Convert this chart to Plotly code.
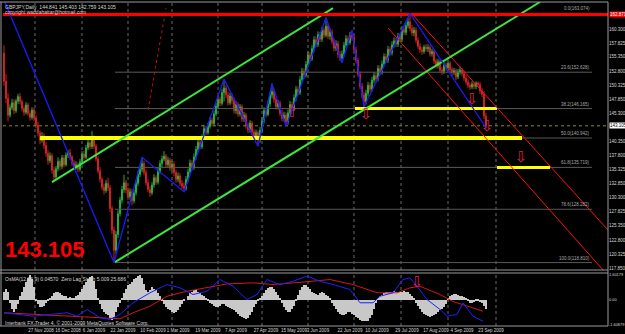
import plotly.graph_objects as go

W, H = 625, 334

# ---------------- price data (daily bars, bar index = position) ----------------
first_open = 156.0
closes = [
    151.0, 148.0, 145.0, 146.3, 147.2, 145.8, 147.5, 148.3, 147.4, 146.2,
    145.5, 146.8, 145.3, 144.6, 145.9, 144.5, 143.2, 141.8, 140.5, 141.3,
    139.6, 138.2, 136.9, 137.8, 135.2, 134.0, 135.5, 136.8, 135.9, 137.4,
    136.2, 137.9, 138.3, 137.6, 136.5, 135.8, 136.2, 135.4, 136.7, 138.1,
    137.5, 139.2, 140.1, 139.4, 141.0, 139.5, 137.2, 135.1, 133.6, 132.2,
    131.6, 132.9, 132.1, 128.4, 124.6, 121.0, 123.8, 127.5, 129.9, 131.8,
    133.0, 131.7, 130.5, 131.4, 129.8, 131.2, 132.9, 134.5, 135.4, 136.4,
    134.8, 133.0, 131.8, 131.2, 132.6, 133.9, 133.1, 135.0, 136.4, 137.2,
    137.7, 136.2, 137.0, 135.6, 136.3, 134.8, 133.6, 134.2, 132.9, 132.4,
    132.0, 133.6, 134.9, 136.5, 135.7, 137.6, 138.9, 140.2, 139.4, 141.0,
    142.6, 141.9, 143.0, 144.1, 143.5, 145.2, 146.6, 147.8, 147.1, 149.0,
    149.8, 148.6, 147.2, 148.4, 147.6, 145.8, 146.9, 145.2, 146.5, 144.3,
    145.0, 143.1, 142.4, 143.6, 142.0, 141.2, 141.9, 140.6, 142.3, 144.0,
    145.8, 145.1, 147.0, 148.6, 149.2, 147.8, 146.5, 147.1, 145.3, 144.4,
    145.0, 143.8, 145.4, 146.9, 146.2, 148.1, 149.6, 149.0, 151.3, 152.8,
    152.1, 154.0, 155.7, 155.0, 156.8, 158.4, 157.6, 159.3, 158.5, 160.1,
    159.2, 160.8, 159.0, 159.8, 158.1, 156.9, 157.7, 155.8, 155.1, 155.9,
    157.4, 158.6, 157.9, 159.2, 158.8, 156.6, 154.7, 152.3, 150.1, 148.6,
    147.4, 148.9, 150.3, 149.6, 151.2, 152.0, 151.4, 153.3, 152.6, 154.1,
    155.4, 154.8, 156.7, 156.1, 157.5, 158.2, 157.6, 159.0, 158.5, 160.2,
    159.7, 160.9, 161.6, 160.4, 159.6, 160.1, 158.3, 157.2, 156.6, 156.3,
    157.1, 156.8, 157.0, 155.9, 156.3, 154.6, 153.8, 154.5, 153.0, 152.8,
    153.9, 153.4, 154.2, 153.1, 152.6, 152.9, 151.8, 152.7, 153.0, 152.4,
    151.6, 150.9, 150.3, 150.0, 150.5, 150.1, 150.7, 150.4, 149.3, 148.7, 144.841, 143.105,
]
highs = [
    157.4, 152.3, 148.9, 146.9, 147.9, 147.8, 147.9, 148.8, 148.9, 147.8,
    146.7, 147.3, 147.2, 145.8, 146.4, 146.3, 145.0, 143.8, 142.3, 142.0,
    141.8, 140.2, 138.8, 138.4, 138.2, 135.8, 136.0, 137.5, 137.2, 137.9,
    137.9, 138.4, 138.8, 139.0, 137.9, 137.0, 136.8, 136.6, 137.2, 138.6,
    138.7, 139.7, 140.8, 140.5, 142.2, 141.4, 139.9, 137.7, 135.8, 134.1,
    132.8, 133.5, 133.9, 132.6, 128.9, 125.2, 124.4, 128.1, 130.5, 132.4,
    134.4, 133.5, 132.2, 132.0, 131.9, 131.8, 133.4, 135.0, 136.1, 137.5,
    136.9, 135.3, 133.6, 132.4, 133.1, 134.5, 134.3, 135.6, 137.0, 137.8,
    138.6, 138.1, 137.6, 137.4, 136.9, 136.8, 135.3, 134.8, 134.7, 133.5,
    133.0, 134.2, 135.5, 137.1, 137.0, 138.2, 139.5, 140.9, 140.8, 141.6,
    143.3, 143.1, 143.6, 144.7, 144.6, 145.8, 147.2, 148.4, 148.3, 149.6,
    151.4, 150.3, 149.1, 149.0, 148.9, 148.1, 147.5, 147.3, 147.0, 146.9,
    145.6, 145.4, 143.7, 144.1, 144.0, 142.5, 142.4, 142.3, 142.9, 144.6,
    146.4, 146.3, 147.6, 149.1, 150.6, 149.7, 148.3, 147.7, 147.6, 145.9,
    145.6, 145.5, 146.0, 147.5, 147.4, 148.7, 150.2, 150.1, 151.9, 153.4,
    153.3, 154.6, 156.3, 156.2, 157.4, 159.0, 159.0, 159.9, 159.8, 160.7,
    160.6, 162.3, 161.3, 160.4, 160.2, 158.6, 158.3, 158.2, 156.4, 156.5,
    158.0, 159.2, 159.1, 159.8, 160.1, 159.3, 157.1, 155.2, 152.8, 150.7,
    149.1, 149.5, 150.9, 150.8, 151.8, 152.6, 152.5, 153.9, 153.8, 154.7,
    156.0, 155.9, 157.3, 157.2, 158.1, 158.8, 158.7, 159.6, 159.5, 160.8,
    160.9, 161.5, 162.3, 163.07, 161.0, 160.7, 160.6, 158.8, 157.8, 157.1,
    157.5, 157.6, 157.6, 157.4, 156.8, 156.7, 155.0, 155.0, 154.9, 153.5,
    154.4, 154.3, 154.8, 154.6, 153.6, 153.4, 153.3, 153.2, 153.6, 153.4,
    152.9, 152.1, 151.4, 150.8, 151.0, 150.9, 151.0, 151.0, 150.9, 149.8, 149.2, 145.403,
]
lows = [
    150.2, 147.1, 143.9, 144.6, 145.9, 145.2, 145.4, 147.0, 146.9, 145.7,
    144.9, 145.1, 144.9, 144.0, 144.2, 143.9, 142.7, 141.2, 139.8, 140.1,
    139.0, 137.6, 136.2, 136.5, 134.6, 133.1, 133.6, 135.0, 135.2, 135.4,
    135.7, 135.9, 137.4, 137.1, 136.0, 135.2, 135.3, 134.9, 135.0, 136.4,
    137.0, 137.2, 138.8, 138.9, 139.0, 139.0, 136.8, 134.6, 133.0, 131.7,
    130.9, 131.2, 131.5, 127.8, 123.9, 118.81, 120.4, 123.2, 127.0, 129.3,
    131.2, 131.1, 129.9, 130.0, 129.0, 129.3, 130.7, 132.4, 134.0, 134.9,
    134.3, 132.5, 131.3, 130.5, 130.8, 132.1, 132.6, 132.7, 134.6, 135.8,
    136.8, 135.7, 135.8, 135.1, 135.0, 134.2, 133.0, 133.1, 132.4, 131.9,
    131.4, 131.6, 133.1, 134.5, 135.2, 135.3, 137.1, 138.4, 138.9, 139.0,
    140.6, 141.4, 141.5, 142.6, 143.0, 143.1, 144.8, 146.1, 146.6, 146.7,
    147.4, 148.0, 146.7, 146.8, 147.0, 145.3, 145.2, 144.7, 144.8, 143.8,
    143.8, 142.6, 141.8, 141.9, 141.5, 140.7, 140.6, 139.5, 140.1, 141.8,
    143.5, 144.6, 144.8, 146.5, 148.0, 147.2, 146.0, 146.0, 144.8, 143.9,
    143.9, 143.0, 143.3, 144.9, 145.7, 145.7, 147.6, 148.5, 148.6, 150.8,
    151.5, 151.7, 153.5, 154.4, 154.6, 156.3, 157.0, 157.1, 158.0, 158.0,
    158.7, 158.8, 158.5, 158.4, 157.6, 156.3, 156.4, 155.2, 154.6, 154.3,
    155.4, 156.9, 157.4, 157.5, 158.2, 156.1, 154.2, 151.8, 149.6, 148.0,
    146.5, 146.9, 148.4, 149.1, 149.2, 150.7, 150.9, 151.0, 152.1, 152.2,
    153.6, 154.3, 154.3, 155.6, 155.6, 157.0, 157.1, 157.1, 158.0, 158.0,
    159.2, 159.2, 160.4, 159.9, 159.1, 159.0, 157.8, 156.7, 156.1, 155.7,
    155.9, 156.3, 156.2, 155.4, 155.4, 154.1, 153.3, 153.3, 152.5, 152.1,
    152.3, 152.9, 152.9, 152.6, 152.0, 152.1, 151.2, 151.4, 152.2, 151.9,
    151.1, 150.4, 149.8, 149.5, 149.6, 149.6, 149.6, 150.0, 148.8, 148.2, 144.3, 142.759,
]

# ZigZag swing points (bar index, price)
zz_i = [-3, 55, 69, 90, 110, 127, 134, 141, 161, 169, 174, 180, 203, 241]
zz_p = [168.0, 118.81, 137.5, 131.4, 151.4, 139.5, 150.6, 143.0, 162.3, 154.3, 160.1, 146.5, 163.07, 142.759]

# OsMA histogram, one value per bar
osma = [
    0.5, 0.7, 0.5,
    -0.2, -0.6, -0.8, -0.6, -0.3,
    0.2, 0.5, 0.8, 1.1, 1.4, 1.6, 1.3, 0.8,
    -0.1, -0.3, -0.5, -0.5, -0.4, -0.2, -0.1, 0.1,
    0.2, 0.4, 0.5, 0.5, 0.4, 0.3, 0.2, 0.2,
    0.1, 0.15, 0.1, 0.1, 0.2,
    0.3, 0.5, 0.7, 0.9, 1.1, 1.3, 1.45, 1.5, 1.2, 0.7,
    0.1, -0.3, -0.6, -0.8, -0.9, -1.0, -1.2, -1.3, -1.1, -0.8, -0.5, -0.2,
    0.1, 0.4, 0.7, 0.9, 1.0, 1.1, 1.3, 1.4, 1.5, 1.6, 1.4, 1.0, 0.6,
    0.5, 0.6, 0.8, 0.7, 0.6, 0.4, 0.2,
    -0.1, -0.3, -0.5, -0.6, -0.7, -0.8, -0.85, -0.8, -0.7, -0.5, -0.3, -0.1,
    0.0, 0.2, 0.4, 0.5, 0.6, 0.6, 0.5, 0.4, 0.3, 0.2,
    0.1, -0.1, -0.2, -0.3, -0.4, -0.5, -0.5, -0.4, -0.3, -0.3, -0.4, -0.5, -0.55, -0.6,
    -0.7, -0.8, -0.95, -1.05, -1.15, -1.2, -1.25, -1.2, -1.0, -0.8, -0.5, -0.3, -0.1, 0.05,
    0.2, 0.4, 0.6, 0.75, 0.8, 0.8, 0.7, 0.5, 0.3, 0.1,
    -0.2, -0.5, -0.7, -0.8, -0.8, -0.6, -0.4, -0.1,
    0.3, 0.6, 0.8, 0.9, 0.9, 0.8, 0.7, 0.5,
    0.4, 0.35, 0.3, 0.4, 0.45, 0.4, 0.3, 0.2, 0.1,
    -0.2, -0.4, -0.6, -0.8, -0.9, -1.0, -1.0, -0.9, -0.8, -0.8, -0.9,
    -1.0, -1.1, -1.2, -1.3, -1.35, -1.4, -1.4, -1.35, -1.2, -1.0, -0.6, -0.2,
    0.1, 0.2, 0.3, 0.4, 0.45, 0.5, 0.5, 0.5, 0.55, 0.5, 0.5, 0.45, 0.5, 0.55, 0.5, 0.45, 0.35, 0.2, 0.1,
    -0.2, -0.4, -0.6, -0.8, -0.9, -1.0, -1.05, -1.1, -1.05, -1.0, -0.9, -0.8, -0.7, -0.6, -0.5, -0.3,
    0.1, 0.2, 0.3, 0.35, 0.35, 0.3, 0.25, 0.2, 0.15, 0.1,
    -0.1, -0.2, -0.2, -0.15, -0.1, -0.1, -0.15, -0.2, -0.4, -0.6,
]
# indicator lines (bar index, value)
blue_i = [0, 8, 14.5, 23, 31.5, 36.5, 41.5, 48, 53, 58, 64.5, 73, 81.5, 88, 94.5, 101.5, 108, 114.5,
          121.5, 126.5, 131.5, 138, 144.5, 151.5, 158, 164.5, 173, 178, 184.5, 188, 194.5, 199.5,
          203, 206.5, 211.5, 218, 221.5, 226.5, 229.5, 234.5, 239.5]
blue_v = [-0.85, -0.96, -1.07, -0.96, -0.85, -1.07, -0.64, -1.17, -1.28, -0.96, -0.21, 0.43, 0.96,
          0.75, 0.32, 0.53, 1.28, 0.85, 0.0, 0.32, 1.28, 0.96, 1.17, 1.5, 1.17, 0.96, 0.64, -0.21,
          -0.21, 0.21, 0.43, 1.28, 1.39, 0.85, 0.0, -0.64, -1.07, -0.96, -0.21, -1.07, -1.39]
red_i = [0, 14.5, 31.5, 48, 58, 64.5, 73, 81.5, 91.5, 101.5, 111.5, 124.5, 134.5, 148, 156.5, 163,
         174.5, 186.5, 196.5, 203, 208, 218, 224.5, 231.5, 239.5]
red_v = [-0.85, -0.96, -1.07, -1.17, -1.24, -0.85, -0.43, 0.21, 0.53, 0.75, 1.0, 1.07, 0.96, 1.1,
         1.2, 1.28, 0.96, 0.43, 0.43, 0.75, 0.85, 0.32, -0.13, -0.43, -0.75]

# axes labels
price_ticks = [160.300, 157.825, 155.350, 152.800, 150.325, 147.850, 145.300, 140.350, 137.800,
               135.325, 132.850, 130.300, 127.825, 125.350, 122.800, 120.325, 117.850]
date_labels = ["3 Nov 2008", "27 Nov 2008", "16 Dec 2008", "6 Jan 2009", "22 Jan 2009",
               "10 Feb 2009", "1 Mar 2009", "19 Mar 2009", "7 Apr 2009", "27 Apr 2009",
               "15 May 2009", "3 Jun 2009", "22 Jun 2009", "10 Jul 2009", "29 Jul 2009",
               "17 Aug 2009", "4 Sep 2009", "23 Sep 2009"]
date_pos = [2, 18.5, 32, 45, 59.5, 74.5, 87, 102, 116, 131, 145, 157, 173, 186.5, 201.5, 216, 229, 243.5]
grid_i = [15.5, 39, 62, 84, 107, 129, 152, 175, 198.5, 222, 246]
osma_ticks = [1.60179, 0.0, -1.60879]
osma_ticktext = ["1.60179", "0.00", "-1.60879"]

# fibonacci retracement
fib_pct = ["0.0", "23.6", "38.2", "50.0", "61.8", "78.6", "100.0"]
fib_val = [163.074, 152.628, 146.165, 140.942, 135.719, 128.282, 118.810]
fib_x = [55.5, 294]

red_hline = 162.871
last_price = 143.105

# drawn objects: ((x0, y0), (x1, y1)) in bar index / price
green_lines = [((24, 133.1), (164.5, 164.0)), ((55.5, 118.9), (268, 165.1))]
red_lines = [((204, 162.96), (302, 124.6)), ((192, 160.48), (299.5, 117.5))]
red_dotted = [((72, 145.9), (81, 164.0))]
yellow_lines = [((18, 140.942), (259, 140.942), 4), ((175.5, 146.165), (246.5, 146.165), 3),
                ((246.5, 135.719), (273, 135.719), 3)]
arrow_i = [144, 181, 234, 241.5, 258.5]
arrow_p = [145.4, 145.0, 147.7, 142.9, 137.4]
arrow_sym = ["⇧", "⇩", "⇩", "⇩", "⇩"]
ind_arrow = (206.5, 1.06, "⇩")

# ---------------- figure ----------------
X0, X1 = -0.5, 302.0
MAIN_TOP, MAIN_BOT = 2, 270
IND_TOP, IND_BOT = 273, 326
PX_L, PX_R = 3, 608
P_TOP, P_BOT = 165.096, 117.494


def py(y):
    return 1 - y / H


def px(x):
    return x / W


n = min(len(closes), len(highs), len(lows))
bars = list(range(n))
opens = [first_open] + closes[:n - 1]

UP, DN = "#20b040", "#d02020"
fig = go.Figure()

# grid (dotted verticals)
for g in grid_i:
    for (a, b) in ((MAIN_TOP, MAIN_BOT), (IND_TOP, IND_BOT)):
        fig.add_shape(type="line", xref="x", yref="paper", x0=g, x1=g, y0=py(b), y1=py(a),
                      line=dict(color="#6a6a6a", width=1, dash="dot"), layer="below")

# fib lines
for v in fib_val:
    fig.add_trace(go.Scatter(x=fib_x, y=[v, v], mode="lines", line=dict(color="#5a5a5a", width=1),
                             xaxis="x", yaxis="y", hoverinfo="skip"))
# current price dotted line
fig.add_trace(go.Scatter(x=[X0, X1], y=[last_price, last_price], mode="lines",
                         line=dict(color="#8a8a20", width=1, dash="dot"), xaxis="x", yaxis="y"))

fig.add_trace(go.Candlestick(
    x=bars, open=opens[:n], high=highs[:n], low=lows[:n], close=closes[:n],
    increasing=dict(line=dict(color=UP, width=1), fillcolor=UP),
    decreasing=dict(line=dict(color=DN, width=1), fillcolor=DN),
    whiskerwidth=0, xaxis="x", yaxis="y"))

# yellow levels
for (a, b, w) in yellow_lines:
    fig.add_trace(go.Scatter(x=[a[0], b[0]], y=[a[1], b[1]], mode="lines",
                             line=dict(color="#ffff00", width=w), xaxis="x", yaxis="y"))
# red channel
for (a, b) in red_lines:
    fig.add_trace(go.Scatter(x=[a[0], b[0]], y=[a[1], b[1]], mode="lines",
                             line=dict(color="#ff1010", width=1), xaxis="x", yaxis="y"))
for (a, b) in red_dotted:
    fig.add_trace(go.Scatter(x=[a[0], b[0]], y=[a[1], b[1]], mode="lines",
                             line=dict(color="#c01010", width=1, dash="dot"), xaxis="x", yaxis="y"))
# green channel
for (a, b) in green_lines:
    fig.add_trace(go.Scatter(x=[a[0], b[0]], y=[a[1], b[1]], mode="lines",
                             line=dict(color="#3ce63c", width=2), xaxis="x", yaxis="y"))
# red horizontal
fig.add_trace(go.Scatter(x=[X0, X1], y=[red_hline, red_hline], mode="lines",
                         line=dict(color="#ff0000", width=3), xaxis="x", yaxis="y"))
# zigzag
fig.add_trace(go.Scatter(x=zz_i, y=zz_p, mode="lines", line=dict(color="#1a1aff", width=1.3),
                         xaxis="x", yaxis="y"))
# arrows
fig.add_trace(go.Scatter(x=arrow_i, y=arrow_p, mode="text", text=arrow_sym,
                         textfont=dict(color="#e0204a", size=15, family="DejaVu Sans"),
                         xaxis="x", yaxis="y"))

# indicator
fig.add_trace(go.Bar(x=list(range(len(osma))), y=osma, width=0.55,
                     marker=dict(color="#c8c8c8", line=dict(width=0)), xaxis="x2", yaxis="y2"))
fig.add_trace(go.Scatter(x=red_i, y=red_v, mode="lines", line=dict(color="#d01818", width=1),
                         xaxis="x2", yaxis="y2"))
fig.add_trace(go.Scatter(x=blue_i, y=blue_v, mode="lines", line=dict(color="#2020ff", width=1),
                         xaxis="x2", yaxis="y2"))
fig.add_trace(go.Scatter(x=[ind_arrow[0]], y=[ind_arrow[1]], mode="text", text=[ind_arrow[2]],
                         textfont=dict(color="#e0204a", size=15, family="DejaVu Sans"),
                         xaxis="x2", yaxis="y2"))

TXT = "#d8d8d8"
FONT = "Liberation Sans"
TICKFONT = dict(size=4.5, color=TXT, family=FONT)
fig.update_layout(
    template="none",
    width=W, height=H, margin=dict(l=0, r=0, t=0, b=0, autoexpand=False),
    paper_bgcolor="#000000", plot_bgcolor="#000000", showlegend=False,
    xaxis=dict(domain=[px(PX_L), px(PX_R)], range=[X0, X1], anchor="y", showticklabels=False,
               showgrid=False, zeroline=False, showline=False, ticks="", automargin=False,
               rangeslider=dict(visible=False)),
    yaxis=dict(domain=[py(MAIN_BOT), py(MAIN_TOP)], range=[P_BOT, P_TOP], anchor="x", side="right",
               tickvals=price_ticks, ticktext=[f"{v:.3f}" for v in price_ticks],
               tickfont=TICKFONT, ticks="", ticklabelstandoff=0,
               showgrid=False, zeroline=False, showline=False, automargin=False),
    xaxis2=dict(domain=[px(PX_L), px(PX_R)], range=[X0, X1], anchor="y2", tickvals=date_pos,
                ticktext=date_labels, tickangle=0, tickfont=TICKFONT,
                ticks="", showgrid=False, zeroline=False, showline=False, automargin=False),
    yaxis2=dict(domain=[py(IND_BOT), py(IND_TOP)], range=[-1.7, 1.7], anchor="x2", side="right",
                tickvals=osma_ticks, ticktext=osma_ticktext,
                tickfont=dict(size=3.9, color=TXT, family=FONT),
                ticks="", ticklabelstandoff=0, showgrid=False, zeroline=False,
                showline=False, automargin=False),
    bargap=0,
)

# frame lines
frame = [
    (0, MAIN_TOP, PX_R, MAIN_TOP), (0, MAIN_BOT, PX_R, MAIN_BOT), (0, IND_TOP, PX_R, IND_TOP),
    (0, IND_BOT, PX_R, IND_BOT), (PX_R, MAIN_TOP, PX_R, IND_BOT), (1, MAIN_TOP, 1, IND_BOT),
]
for (xa, ya, xb, yb) in frame:
    fig.add_shape(type="line", xref="paper", yref="paper", x0=px(xa), x1=px(xb), y0=py(ya), y1=py(yb),
                  line=dict(color="#9a9a9a", width=1))

# fib labels
for p, v in zip(fib_pct, fib_val):
    fig.add_annotation(x=fib_x[1], y=v, xref="x", yref="y", text=f"{p}({v:.3f})", showarrow=False,
                       xanchor="right", yanchor="bottom", font=dict(size=4.5, color="#a8a8a8", family=FONT))

# price boxes on the axis
fig.add_annotation(x=px(PX_R + 0.5), y=red_hline, xref="paper", yref="y", text=f"{red_hline:.3f}",
                   showarrow=False, xanchor="left", yanchor="middle", bgcolor="#ff0000",
                   font=dict(size=4.5, color="#ffffff", family=FONT), borderpad=0)
fig.add_annotation(x=px(PX_R + 0.5), y=last_price, xref="paper", yref="y", text=f"{last_price:.3f}",
                   showarrow=False, xanchor="left", yanchor="middle", bgcolor="#ffffff",
                   font=dict(size=4.5, color="#000000", family=FONT), borderpad=0)

# texts
texts = [
    (3, 2, "GBPJPY,Daily  144.841 145.403 142.759 143.105", 5, TXT),
    (3, 7.5, "copyright waddahattar@hotmail.com", 5, TXT),
    (3, 274, "OsMA(12,26,9) 0.04570  Zero Lag Stoch 5.009 25.686", 5, TXT),
    (3, 318, "Interbank FX Trader 4, © 2001-2009 MetaQuotes Software Corp.", 5, TXT),
]
for (xx, yy, t, s, c) in texts:
    fig.add_annotation(x=px(xx), y=py(yy), xref="paper", yref="paper", text=t, showarrow=False,
                       xanchor="left", yanchor="top", font=dict(size=s, color=c, family=FONT))
fig.add_annotation(x=px(3), y=py(249), xref="paper", yref="paper", text=f"<b>{last_price:.3f}</b>",
                   showarrow=False, xanchor="left", yanchor="middle",
                   font=dict(size=22, color="#ff0000", family="Liberation Sans"))

fig.write_html("out.html")
